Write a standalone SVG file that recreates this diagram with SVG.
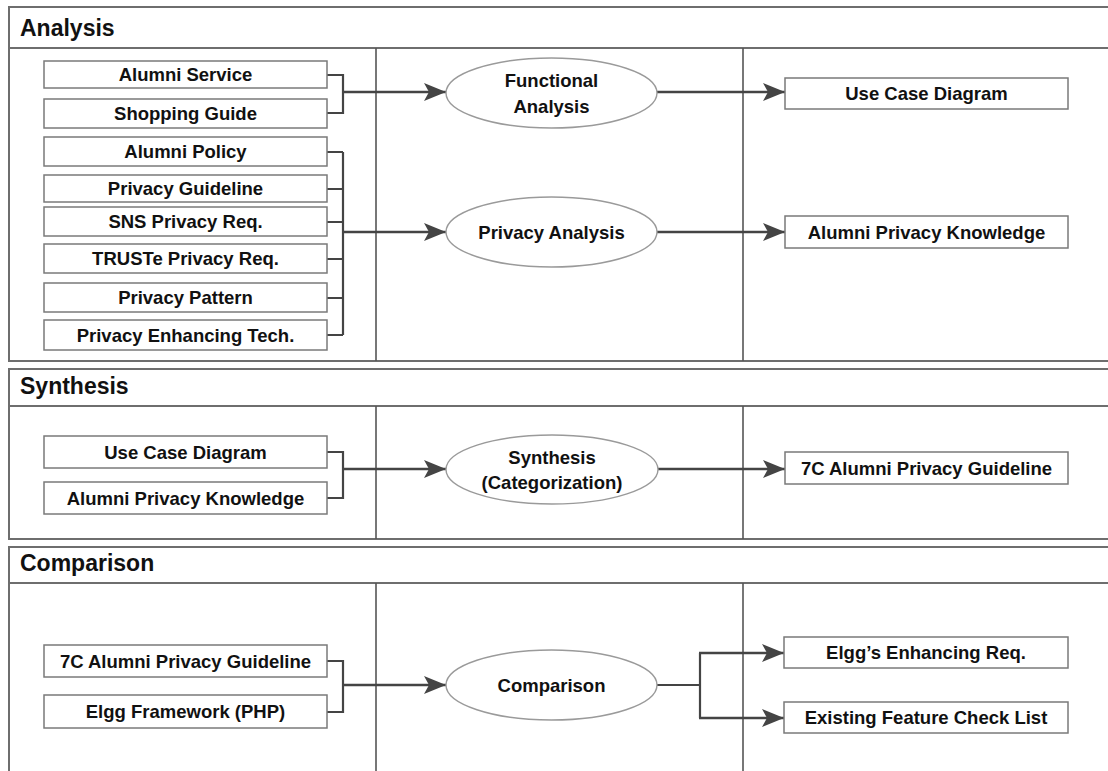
<svg xmlns="http://www.w3.org/2000/svg" width="1108" height="771" viewBox="0 0 1108 771">
<defs>
<style>
.frame{fill:none;stroke:#6e6e6e;stroke-width:2}
.div{fill:none;stroke:#555;stroke-width:1.6}
.box{fill:#fff;stroke:#7a7a7a;stroke-width:1.5}
.ell{fill:#fff;stroke:#9a9a9a;stroke-width:1.4}
.t{font-family:"Liberation Sans",Arial,sans-serif;font-weight:bold;font-size:18.5px;fill:#111;text-anchor:middle}
.h{font-family:"Liberation Sans",Arial,sans-serif;font-weight:bold;font-size:23px;fill:#111}
.c{fill:none;stroke:#444;stroke-width:2.2}
.a{fill:none;stroke:#444;stroke-width:2.6;marker-end:url(#arr)}
</style>
<marker id="arr" markerUnits="userSpaceOnUse" markerWidth="24" markerHeight="20" refX="22" refY="9" orient="auto">
<path d="M0,0 L22,9 L0,18 L5,9 z" fill="#444"/>
</marker>
</defs>
<rect width="1108" height="771" fill="#fff"/>

<g id="panels">
<g id="analysis-panel">
<rect class="frame" x="9" y="7" width="1110" height="354"/>
<line class="frame" x1="9" y1="48" x2="1108" y2="48"/>
<line class="div" x1="376" y1="48" x2="376" y2="361"/>
<line class="div" x1="743" y1="48" x2="743" y2="361"/>
<text class="h" x="20" y="36">Analysis</text>
</g>
<g id="synthesis-panel">
<rect class="frame" x="9" y="369" width="1110" height="170"/>
<line class="frame" x1="9" y1="406" x2="1108" y2="406"/>
<line class="div" x1="376" y1="406" x2="376" y2="539"/>
<line class="div" x1="743" y1="406" x2="743" y2="539"/>
<text class="h" x="20" y="394">Synthesis</text>
</g>
<g id="comparison-panel">
<rect class="frame" x="9" y="547" width="1110" height="240"/>
<line class="frame" x1="9" y1="583" x2="1108" y2="583"/>
<line class="div" x1="376" y1="583" x2="376" y2="771"/>
<line class="div" x1="743" y1="583" x2="743" y2="771"/>
<text class="h" x="20" y="571">Comparison</text>
</g>
</g>

<g id="connectors">
<path class="c" d="M327,75 H343 V113 H327"/>
<path class="a" d="M343,92 H446"/>
<path class="c" d="M327,152 H343 M327,189 H343 M327,222 H343 M327,259 H343 M327,298 H343 M327,335 H343 M343,152 V335"/>
<path class="a" d="M343,232 H446"/>
<path class="a" d="M657,92 H785"/>
<path class="a" d="M657,232 H785"/>
<path class="c" d="M327,452 H343 V498 H327"/>
<path class="a" d="M343,469 H446"/>
<path class="a" d="M658,469 H785"/>
<path class="c" d="M327,661 H343 V712 H327"/>
<path class="a" d="M343,685 H446"/>
<path class="c" d="M657,685 H700 M700,653 V718"/>
<path class="a" d="M699,653 H784"/>
<path class="a" d="M699,718 H784"/>
</g>

<g id="n-alumni-service"><rect class="box" x="44" y="61" width="283" height="27"/><text class="t" x="185.5" y="81">Alumni Service</text></g>
<g id="n-shopping-guide"><rect class="box" x="44" y="99" width="283" height="29"/><text class="t" x="185.5" y="120">Shopping Guide</text></g>
<g id="n-alumni-policy"><rect class="box" x="44" y="137" width="283" height="29"/><text class="t" x="185.5" y="158">Alumni Policy</text></g>
<g id="n-privacy-guideline"><rect class="box" x="44" y="175" width="283" height="27"/><text class="t" x="185.5" y="195">Privacy Guideline</text></g>
<g id="n-sns"><rect class="box" x="44" y="207" width="283" height="29"/><text class="t" x="185.5" y="228">SNS Privacy Req.</text></g>
<g id="n-truste"><rect class="box" x="44" y="244" width="283" height="29"/><text class="t" x="185.5" y="265">TRUSTe Privacy Req.</text></g>
<g id="n-privacy-pattern"><rect class="box" x="44" y="283" width="283" height="29"/><text class="t" x="185.5" y="304">Privacy Pattern</text></g>
<g id="n-pet"><rect class="box" x="44" y="320" width="283" height="30"/><text class="t" x="185.5" y="342">Privacy Enhancing Tech.</text></g>

<g id="n-functional-analysis"><ellipse class="ell" cx="551.5" cy="93" rx="105.5" ry="35"/><text class="t" x="551.5" y="87">Functional</text><text class="t" x="551.5" y="113">Analysis</text></g>
<g id="n-privacy-analysis"><ellipse class="ell" cx="551.5" cy="232" rx="105.5" ry="35"/><text class="t" x="551.5" y="239">Privacy Analysis</text></g>
<g id="n-use-case-out"><rect class="box" x="785" y="78" width="283" height="31"/><text class="t" x="926.5" y="100">Use Case Diagram</text></g>
<g id="n-apk-out"><rect class="box" x="785" y="216" width="283" height="32"/><text class="t" x="926.5" y="239">Alumni Privacy Knowledge</text></g>

<g id="n-use-case-in"><rect class="box" x="44" y="436" width="283" height="32"/><text class="t" x="185.5" y="459">Use Case Diagram</text></g>
<g id="n-apk-in"><rect class="box" x="44" y="482" width="283" height="32"/><text class="t" x="185.5" y="505">Alumni Privacy Knowledge</text></g>
<g id="n-synthesis"><ellipse class="ell" cx="552" cy="469.5" rx="106" ry="34.5"/><text class="t" x="552" y="464">Synthesis</text><text class="t" x="552" y="489">(Categorization)</text></g>
<g id="n-7c-out"><rect class="box" x="785" y="452" width="283" height="32"/><text class="t" x="926.5" y="475">7C Alumni Privacy Guideline</text></g>

<g id="n-7c-in"><rect class="box" x="44" y="645" width="283" height="32"/><text class="t" x="185.5" y="668">7C Alumni Privacy Guideline</text></g>
<g id="n-elgg-framework"><rect class="box" x="44" y="695" width="283" height="33"/><text class="t" x="185.5" y="718">Elgg Framework (PHP)</text></g>
<g id="n-comparison"><ellipse class="ell" cx="551.5" cy="685" rx="105.5" ry="35"/><text class="t" x="551.5" y="692">Comparison</text></g>
<g id="n-elgg-req"><rect class="box" x="784" y="637" width="284" height="31"/><text class="t" x="926" y="659">Elgg’s Enhancing Req.</text></g>
<g id="n-feature-check"><rect class="box" x="784" y="702" width="284" height="31"/><text class="t" x="926" y="724">Existing Feature Check List</text></g>
</svg>
